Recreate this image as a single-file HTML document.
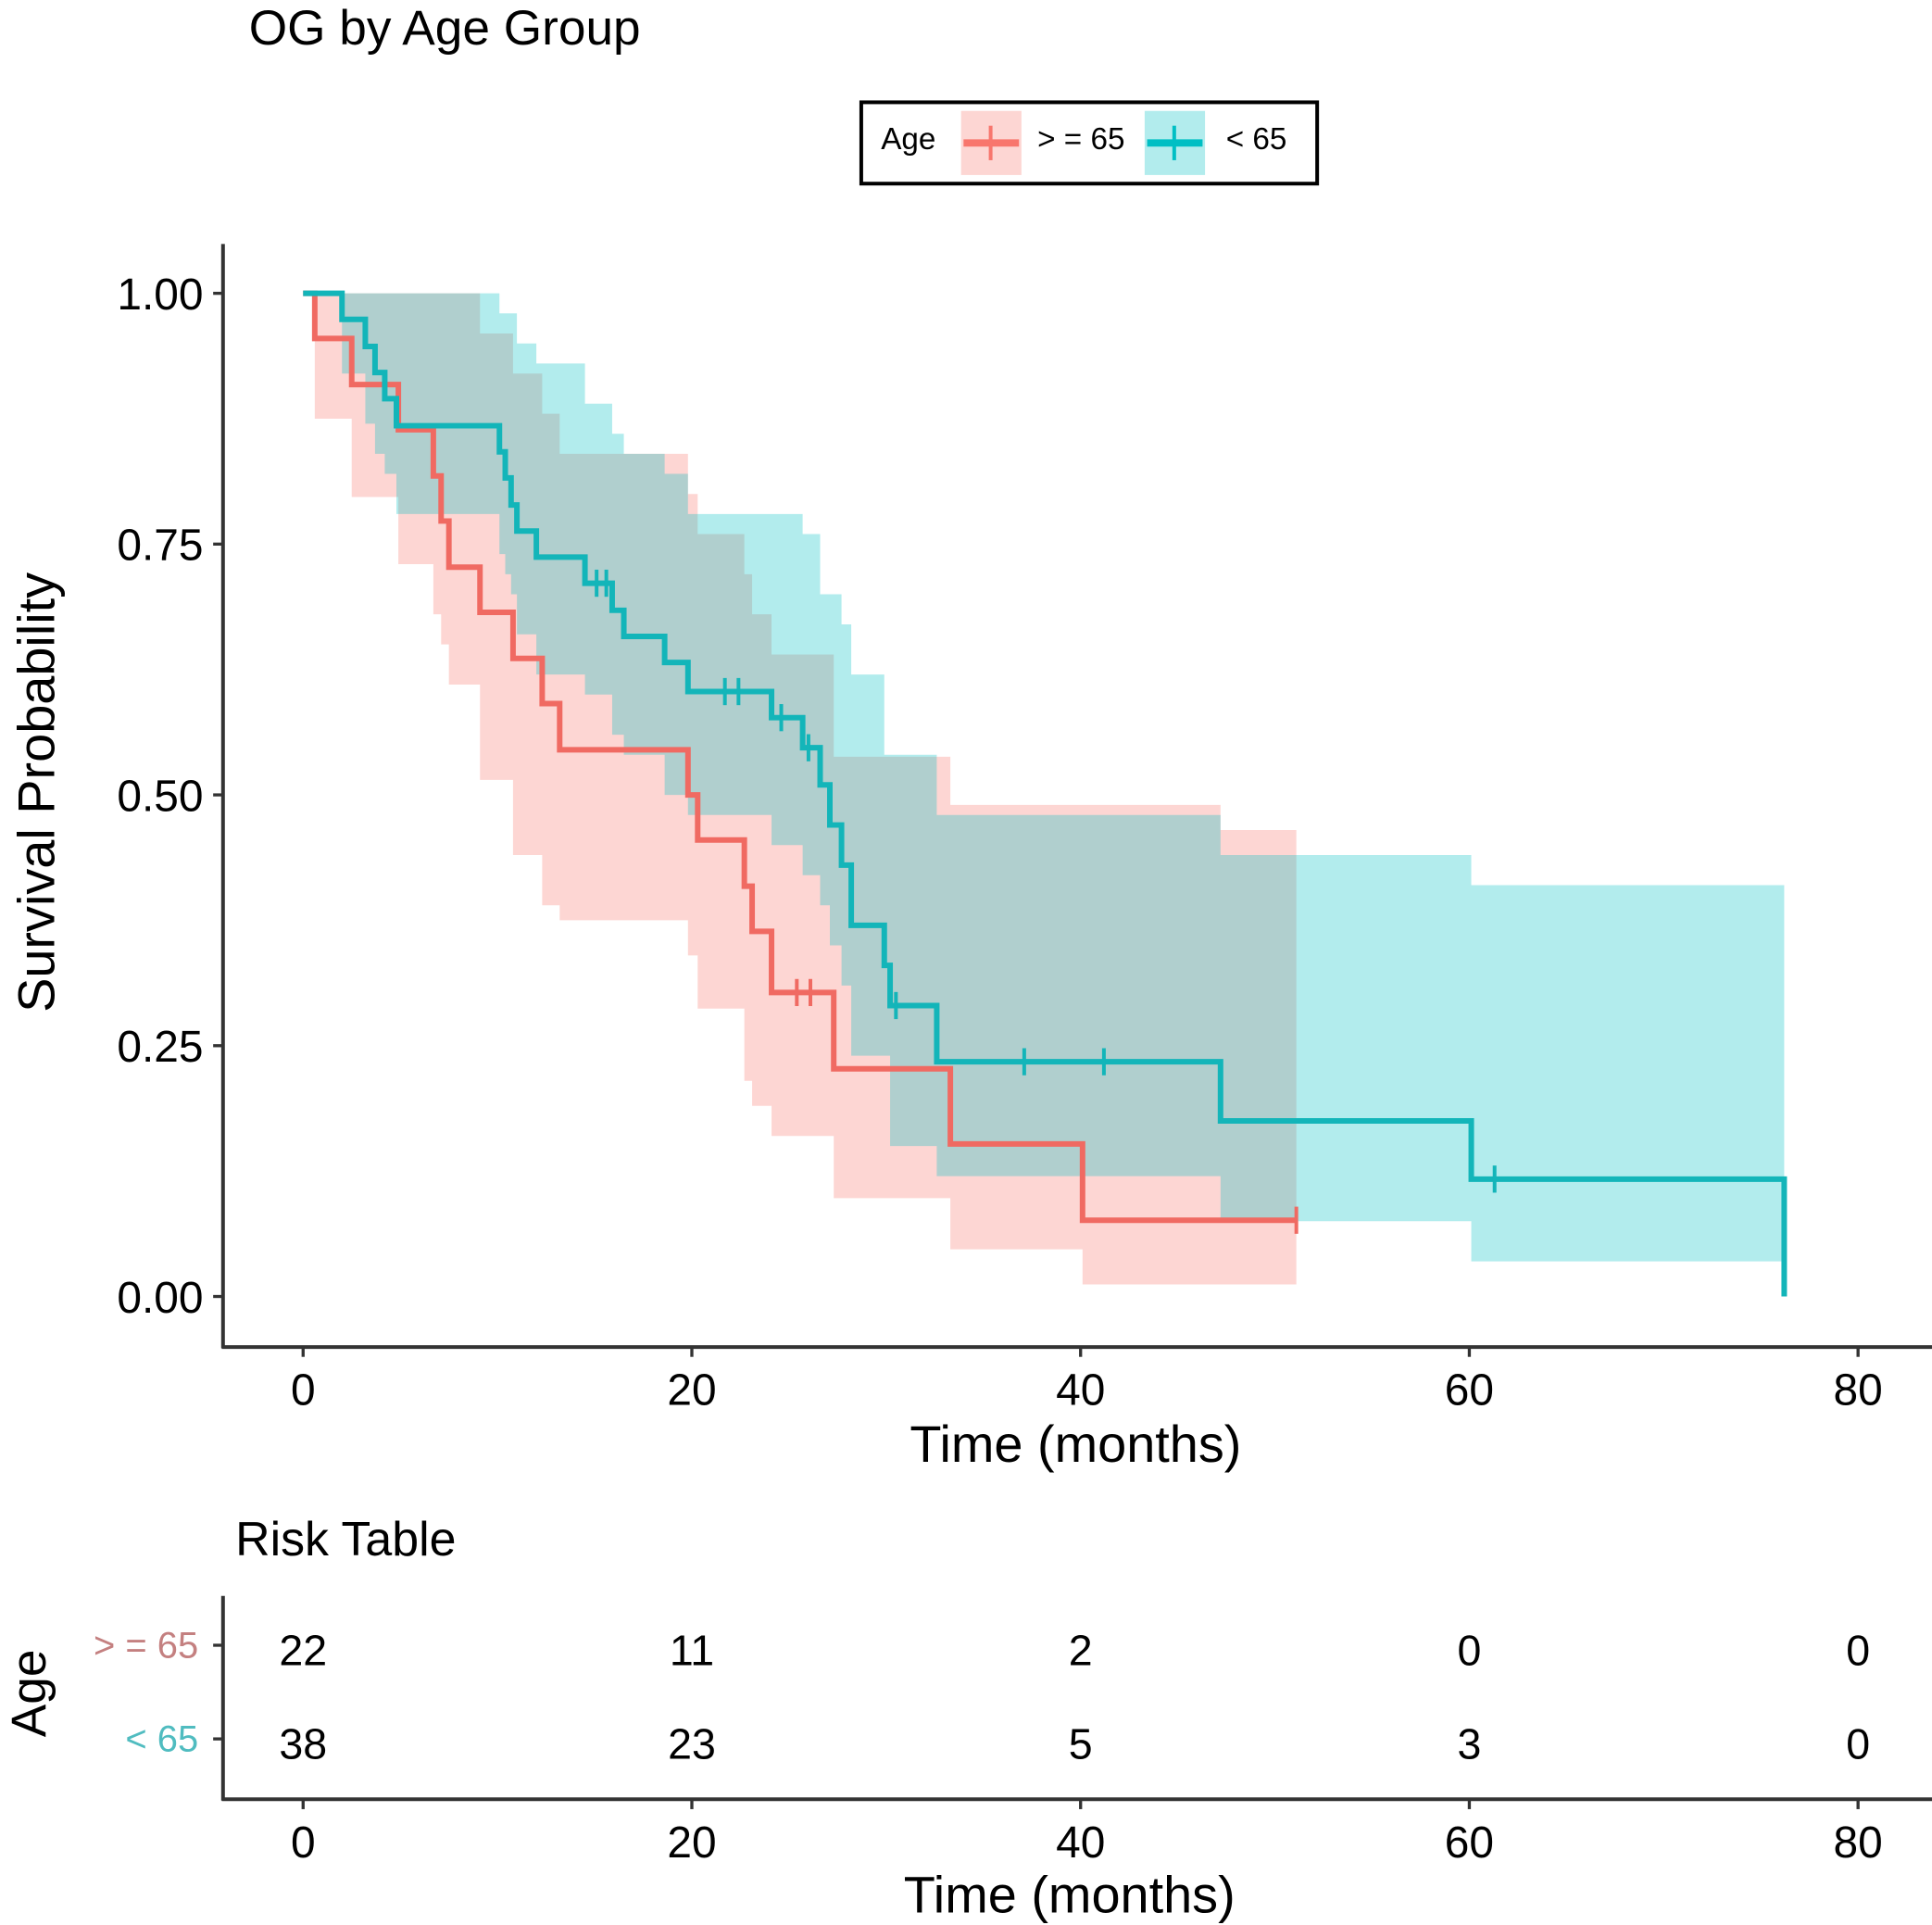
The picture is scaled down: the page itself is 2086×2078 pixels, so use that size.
<!DOCTYPE html>
<html><head><meta charset="utf-8"><style>
html,body{margin:0;padding:0;background:#fff}
svg{display:block}
text{font-family:"Liberation Sans",Arial,sans-serif;fill:#000}
</style></head><body>
<svg id="chart" width="2086" height="2078" viewBox="0 0 1568 1562" xmlns="http://www.w3.org/2000/svg">
<text x="202" y="36" font-size="40">OG by Age Group</text>
<g>
<rect x="699" y="83" width="370" height="66" fill="#fff" stroke="#000" stroke-width="3"/>
<text x="715" y="121" font-size="25">Age</text>
<rect x="780" y="90" width="49" height="52" fill="#F8766D" fill-opacity="0.3"/>
<line x1="782" y1="116" x2="827" y2="116" stroke="#F8766D" stroke-width="6"/>
<line x1="804" y1="102" x2="804" y2="130" stroke="#F8766D" stroke-width="3"/>
<text x="842" y="121" font-size="25">&gt; = 65</text>
<rect x="929" y="90" width="49" height="52" fill="#00BFC4" fill-opacity="0.3"/>
<line x1="931" y1="116" x2="976" y2="116" stroke="#00BFC4" stroke-width="6"/>
<line x1="953" y1="102" x2="953" y2="130" stroke="#00BFC4" stroke-width="3"/>
<text x="995" y="121" font-size="25">&lt; 65</text>
</g>
<g id="plot"></g>
<g>
<line x1="181" y1="198" x2="181" y2="1094" stroke="#333" stroke-width="3"/>
</g>
<g>
<line x1="180" y1="1093" x2="1568" y2="1093" stroke="#333" stroke-width="3"/>
</g>
<g id="ticks"></g>
<text x="873" y="1186" font-size="42" text-anchor="middle">Time (months)</text>
<text transform="translate(44,643) rotate(-90)" font-size="42" text-anchor="middle">Survival Probability</text>
<text x="191" y="1262" font-size="39">Risk Table</text>
<line x1="181" y1="1295" x2="181" y2="1461" stroke="#333" stroke-width="3"/>
<line x1="180" y1="1460" x2="1568" y2="1460" stroke="#333" stroke-width="3"/>
<text transform="translate(37,1374) rotate(-90)" font-size="40" text-anchor="middle">Age</text>
<g id="risk"></g>
<text x="868" y="1552" font-size="42" text-anchor="middle">Time (months)</text>
</svg>
<script>
const xTicks=[0,20,40,60,80];
const yTicks=[0,0.25,0.5,0.75,1];
const yTickLabels=["0.00","0.25","0.50","0.75","1.00"];
// >= 65 group
const redT=[0,0.6,2.5,4.9,6.7,7.1,7.5,9.1,10.8,12.3,13.2,19.8,20.3,22.7,23.1,24.1,27.3,33.3,40.1,47.2,51.1];
const redS=[1,0.955,0.909,0.864,0.818,0.773,0.727,0.682,0.636,0.591,0.545,0.5,0.455,0.409,0.364,0.303,0.227,0.152,0.076,0.076,0.076];
const redU=[1,1,1,1,1,1,1,0.96,0.92,0.88,0.84,0.80,0.76,0.72,0.68,0.64,0.538,0.49,0.49,0.465,0.465];
const redL=[1,0.875,0.797,0.730,0.680,0.650,0.610,0.515,0.440,0.390,0.375,0.340,0.287,0.215,0.190,0.160,0.098,0.047,0.012,0.012,0.012];
const redCens=[25.4,26.1,51.1];
// < 65 group
const tealT=[0,2.0,3.2,3.7,4.2,4.8,10.1,10.4,10.7,11.0,12.0,14.5,15.9,16.5,18.6,19.8,24.1,25.7,26.6,27.1,27.7,28.2,29.9,30.2,32.6,47.2,60.1,76.2];
const tealS=[1,0.974,0.947,0.921,0.895,0.868,0.842,0.816,0.789,0.763,0.737,0.711,0.684,0.658,0.632,0.603,0.577,0.547,0.51,0.47,0.43,0.37,0.33,0.29,0.234,0.175,0.117,0];
const tealU=[1,1,1,1,1,1,0.98,0.98,0.98,0.95,0.93,0.89,0.86,0.84,0.82,0.78,0.78,0.76,0.70,0.70,0.67,0.62,0.54,0.54,0.48,0.44,0.41,0.375];
const tealL=[1,0.92,0.87,0.84,0.82,0.78,0.74,0.72,0.70,0.66,0.62,0.60,0.56,0.54,0.50,0.48,0.45,0.42,0.39,0.35,0.31,0.24,0.24,0.15,0.12,0.075,0.035,0.035];
const tealCens=[15.1,15.6,21.7,22.4,24.6,26.0,30.5,37.1,41.2,61.3];
const riskRows=[">= 65","< 65"];
const riskRed=[22,11,2,0,0];
const riskTeal=[38,23,5,3,0];

const X=t=>246+t*15.775;
const Y=s=>1052-s*814;
const NS="http://www.w3.org/2000/svg";
function mk(tag,attrs,parent){const e=document.createElementNS(NS,tag);for(const k in attrs)e.setAttribute(k,attrs[k]);parent.appendChild(e);return e;}
const plot=document.getElementById('plot');
function band(T,U,L,color,name){
  let up=[],lo=[];
  for(let i=0;i<T.length;i++){
    const x0=X(T[i]),x1=X(i+1<T.length?T[i+1]:T[i]);
    up.push(x0+','+Y(U[i]),x1+','+Y(U[i]));
    lo.push(x0+','+Y(L[i]),x1+','+Y(L[i]));
  }
  const p=mk('polygon',{points:up.concat(lo.reverse()).join(' '),fill:color,'fill-opacity':0.3},plot);
  
  
}
function curve(T,S,color,name){
  let d='M'+X(T[0])+','+Y(S[0]);
  for(let i=1;i<T.length;i++){d+=' H'+X(T[i])+' V'+Y(S[i]);}
  const p=mk('path',{d:d,fill:'none',stroke:color,'stroke-width':4.5},plot);
  
  
}
function survAt(T,S,t){let v=S[0];for(let i=0;i<T.length;i++){if(T[i]<=t)v=S[i];}return v;}
function cens(T,S,C,color,name){
  C.forEach(t=>{const x=X(t),y=Y(survAt(T,S,t));
    const l=mk('line',{x1:x,y1:y-11,x2:x,y2:y+11,stroke:color,'stroke-width':3},plot);
    
    
  });
}
band(redT,redU,redL,'#F8766D','ci-band-age-65-plus');
band(tealT,tealU,tealL,'#00BFC4','ci-band-age-under-65');
curve(redT,redS,'#F06A62','curve-age-65-plus');
curve(tealT,tealS,'#13B5B9','curve-age-under-65');
cens(redT,redS,redCens,'#F06A62','censor-mark-65-plus');
cens(tealT,tealS,tealCens,'#13B5B9','censor-mark-under-65');

const ticks=document.getElementById('ticks');
yTicks.forEach((v,i)=>{
  const y=Y(v);
  mk('line',{x1:173,y1:y,x2:181,y2:y,stroke:'#333','stroke-width':2.5},ticks);
  const t=mk('text',{x:165,y:y+13,'font-size':36,'text-anchor':'end'},ticks);
  t.textContent=yTickLabels[i];
  
  
});
xTicks.forEach(v=>{
  const x=X(v);
  mk('line',{x1:x,y1:1093,x2:x,y2:1101,stroke:'#333','stroke-width':2.5},ticks);
  const t=mk('text',{x:x,y:1140,'font-size':36,'text-anchor':'middle'},ticks);
  t.textContent=v;
  
  
  mk('line',{x1:x,y1:1460,x2:x,y2:1468,stroke:'#333','stroke-width':2.5},ticks);
  const t2=mk('text',{x:x,y:1507,'font-size':36,'text-anchor':'middle'},ticks);
  t2.textContent=v;
  
  
});
const risk=document.getElementById('risk');
const rowY=[1335,1411],rowCol=['#C48080','#50BCC0'];
[riskRed,riskTeal].forEach((vals,r)=>{
  mk('line',{x1:173,y1:rowY[r],x2:181,y2:rowY[r],stroke:'#333','stroke-width':2.5},risk);
  const lab=mk('text',{x:161,y:rowY[r]+10,'font-size':30,'text-anchor':'end',style:'fill:'+rowCol[r]},risk);
  lab.textContent=riskRows[r].replace('>=','> =');
  
  
  vals.forEach((n,i)=>{
    const t=mk('text',{x:X(xTicks[i]),y:rowY[r]+16,'font-size':35,'text-anchor':'middle'},risk);
    t.textContent=n;
    
    
  });
});
</script>
</body></html>
